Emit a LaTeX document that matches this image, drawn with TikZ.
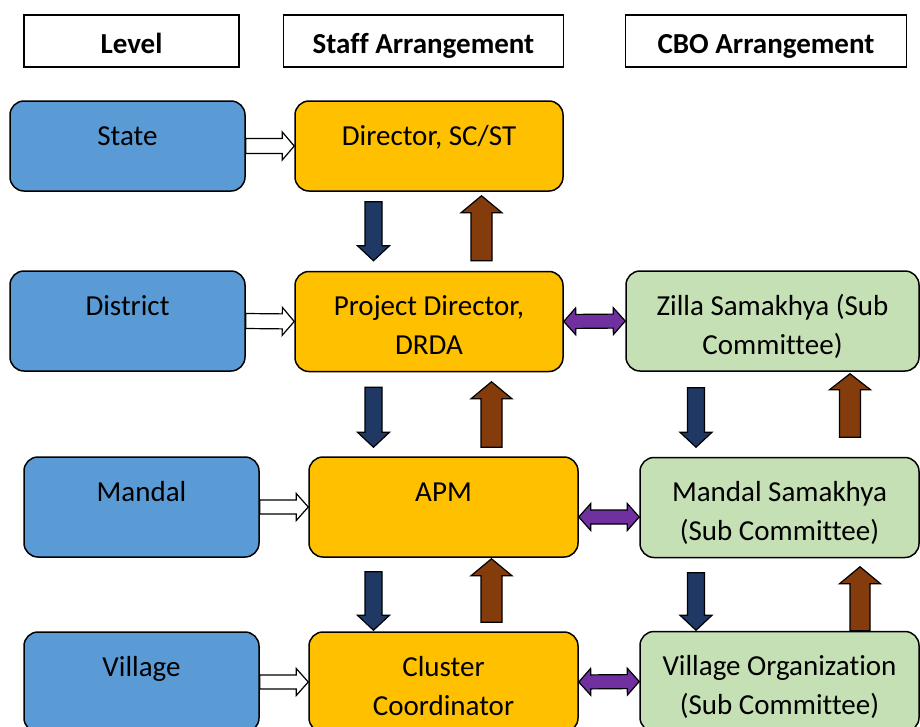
\documentclass[tikz,border=0pt]{standalone}
\usepackage{fontspec}
\setmainfont{Carlito}[Ligatures=NoCommon]
\usetikzlibrary{calc}

\definecolor{lvlblue}{HTML}{5B9BD5}
\definecolor{staffor}{HTML}{FFC000}
\definecolor{cbogreen}{HTML}{C5E0B4}
\definecolor{downblue}{HTML}{1F3864}
\definecolor{upbrown}{HTML}{843C0C}
\definecolor{linkpurple}{HTML}{7030A0}

\newcommand{\boxfont}{\fontsize{29}{39}\selectfont}

% block arrow: style, shaft half width, head half width, head length, start, end
\newcommand{\blockarrow}[6]{%
  \path (#5) coordinate (bs) (#6) coordinate (be);
  \path ($(be)!#4!(bs)$) coordinate (bh);
  \draw[#1] ($(bs)!#2!90:(be)$) -- ($(bh)!#2!90:(be)$) -- ($(bh)!#3!90:(be)$) -- (be)
    -- ($(bh)!#3!-90:(be)$) -- ($(bh)!#2!-90:(be)$) -- ($(bs)!#2!-90:(be)$) -- cycle;}
% same with a head at both ends
\newcommand{\twowayarrow}[6]{%
  \path (#5) coordinate (bs) (#6) coordinate (be);
  \path ($(bs)!#4!(be)$) coordinate (ha) ($(be)!#4!(bs)$) coordinate (hb);
  \draw[#1] (bs) -- ($(ha)!#3!90:(be)$) -- ($(ha)!#2!90:(be)$) -- ($(hb)!#2!90:(be)$)
    -- ($(hb)!#3!90:(be)$) -- (be) -- ($(hb)!#3!-90:(be)$) -- ($(hb)!#2!-90:(be)$)
    -- ($(ha)!#2!-90:(be)$) -- ($(ha)!#3!-90:(be)$) -- cycle;}

\tikzset{
  box/.style={draw, line width=1.5pt, rounded corners=14pt, inner sep=0pt, align=center,
    minimum height=100pt, text height=44pt, text depth=56pt},
  twoline/.style={text height=83pt, text depth=17pt},
  lvl/.style={box, fill=lvlblue, minimum width=235pt},
  staff/.style={box, fill=staffor},
  cbo/.style={box, fill=cbogreen, twoline},
  hdr/.style={draw, line width=1.5pt, inner sep=0pt, minimum height=52pt,
    text height=38pt, text depth=14pt, font=\boxfont\bfseries},
  whitearr/.style={draw, fill=white, line width=1.2pt},
  downarr/.style={draw, fill=downblue, line width=1.2pt},
  uparr/.style={draw, fill=upbrown, line width=1.2pt},
  linkarr/.style={draw, fill=linkpurple, line width=1.2pt}
}

\begin{document}
\begin{tikzpicture}[x=1pt, y=-1pt, font=\boxfont]
  \useasboundingbox (0,0) rectangle (920,726);
  \clip (0,0) rectangle (920,726);

  % Headers
  \node[hdr, minimum width=215pt] (hLevel) at (131.5,41) {Level};
  \node[hdr, minimum width=280pt] (hStaff) at (423.5,41) {Staff Arrangement};
  \node[hdr, minimum width=281pt] (hCBO) at (766,41) {CBO Arrangement};

  % Levels
  \node[lvl, minimum height=90pt, text depth=46pt] (state) at (127.5,146) {State};
  \node[lvl] (district) at (127.5,321) {District};
  \node[lvl] (mandal) at (141.5,507) {Mandal};
  \node[lvl] (village) at (141.5,682) {Village};

  % Staff arrangement
  \node[staff, minimum width=268pt, minimum height=90pt, text depth=46pt] (director) at (429,146) {Director, SC/ST};
  \node[staff, twoline, minimum width=268pt] (pd) at (429,321.5) {Project Director,\\DRDA};
  \node[staff, minimum width=269pt] (apm) at (443.5,507) {APM};
  \node[staff, twoline, minimum width=269pt] (cc) at (443.5,682) {Cluster\\Coordinator};

  % CBO arrangement
  \node[cbo, minimum width=293pt] (zilla) at (772.5,321) {Zilla Samakhya (Sub\\Committee)};
  \node[cbo, minimum width=279pt] (msam) at (779.5,507.5) {Mandal Samakhya\\(Sub Committee)};
  \node[cbo, minimum width=279pt] (vorg) at (779.5,681.5) {Village Organization\\(Sub Committee)};

  % Level -> staff
  \blockarrow{whitearr}{7.5pt}{14pt}{12pt}{state.east}{director.west}
  \blockarrow{whitearr}{7.5pt}{14pt}{12pt}{district.east}{pd.west}
  \blockarrow{whitearr}{7pt}{13.5pt}{12pt}{mandal.east}{apm.west}
  \blockarrow{whitearr}{7pt}{13.5pt}{12pt}{village.east}{cc.west}

  % Down and up, staff
  \blockarrow{downarr}{8.5pt}{16pt}{15pt}{[shift={(-55.5,10)}]director.south}{[shift={(-55.5,-10)}]pd.north}
  \blockarrow{uparr}{10.5pt}{20.5pt}{17pt}{[shift={(52.5,-10)}]pd.north}{[shift={(52.5,4)}]director.south}
  \blockarrow{downarr}{8.5pt}{16pt}{15pt}{[shift={(-55.5,15)}]pd.south}{[shift={(-70,-9)}]apm.north}
  \blockarrow{uparr}{10.5pt}{20.5pt}{17pt}{[shift={(48,-9)}]apm.north}{[shift={(62.5,9.5)}]pd.south}
  \blockarrow{downarr}{8.5pt}{16pt}{15pt}{[shift={(-70,14)}]apm.south}{[shift={(-70,-1)}]cc.north}
  \blockarrow{uparr}{10.5pt}{20.5pt}{17pt}{[shift={(48,-9)}]cc.north}{[shift={(48,1)}]apm.south}

  % Down and up, CBO
  \blockarrow{downarr}{8.5pt}{16pt}{15pt}{[shift={(-76.5,16)}]zilla.south}{[shift={(-83.5,-9.5)}]msam.north}
  \blockarrow{uparr}{10.5pt}{20.5pt}{16pt}{[shift={(70.5,-19.5)}]msam.north}{[shift={(77.5,2)}]zilla.south}
  \blockarrow{downarr}{8.5pt}{16pt}{15pt}{[shift={(-83.5,14.5)}]msam.south}{[shift={(-83.5,-0.5)}]vorg.north}
  \blockarrow{uparr}{10pt}{20.5pt}{17pt}{[shift={(80.5,0)}]vorg.north}{[shift={(80.5,8.5)}]msam.south}

  % Staff <-> CBO
  \twowayarrow{linkarr}{7pt}{13.5pt}{12pt}{pd.east}{zilla.west}
  \twowayarrow{linkarr}{7pt}{13.5pt}{12pt}{[shift={(0,10)}]apm.east}{[shift={(0,9.5)}]msam.west}
  \twowayarrow{linkarr}{7pt}{13.5pt}{12pt}{cc.east}{vorg.west}
\end{tikzpicture}
\end{document}
